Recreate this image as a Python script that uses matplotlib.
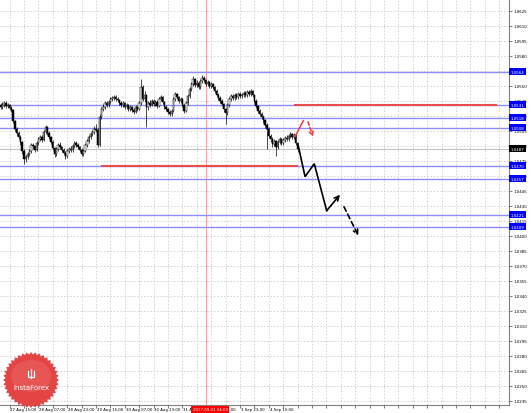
import numpy as np
import matplotlib
matplotlib.use("Agg")
from matplotlib import pyplot as plt
from matplotlib.patches import Polygon
from matplotlib.transforms import blended_transform_factory

# H1 bars, prices given in pips above 1.0000
close_pips = [529, 531, 533, 530, 531, 528, 526, 515, 507, 503,
              499, 494, 485, 477, 479, 482, 485, 491, 490, 486,
              493, 497, 499, 496, 504, 509, 503, 499, 494, 488,
              482, 487, 491, 489, 486, 483, 480, 485, 487, 486,
              490, 493, 491, 489, 486, 482, 485, 491, 495, 499,
              502, 504, 507, 506, 491, 519, 527, 529, 533, 531,
              534, 537, 538, 539, 537, 536, 533, 531, 533, 529,
              531, 527, 529, 526, 524, 529, 527, 533, 549, 537,
              541, 529, 533, 531, 535, 532, 534, 530, 537, 539,
              534, 529, 527, 524, 522, 525, 537, 542, 539, 535,
              537, 531, 525, 533, 540, 547, 552, 557, 551, 553,
              549, 555, 558, 556, 552, 554, 550, 552, 549, 545,
              541, 538, 535, 532, 527, 523, 531, 537, 540, 538,
              541, 539, 542, 540, 541, 543, 541, 544, 542, 545,
              541, 535, 530, 525, 522, 519, 516, 511, 507, 500,
              497, 492, 495, 489, 494, 497, 493, 496, 498, 497,
              500, 502, 499, 501, 493, 487]
high_pips = [533, 534, 535, 535, 533, 532, 530, 527, 516, 509,
             505, 501, 495, 487, 481, 484, 487, 493, 493, 491,
             495, 499, 501, 501, 506, 511, 510, 505, 500, 496,
             489, 489, 493, 494, 490, 488, 485, 487, 489, 490,
             492, 495, 495, 493, 490, 488, 487, 493, 497, 501,
             504, 506, 510, 512, 508, 522, 529, 532, 535, 535,
             536, 539, 540, 541, 541, 539, 537, 535, 535, 534,
             533, 532, 531, 530, 528, 531, 530, 535, 557, 551,
             545, 542, 535, 536, 537, 537, 536, 536, 539, 541,
             540, 535, 531, 528, 526, 527, 539, 544, 543, 540,
             539, 538, 532, 535, 542, 549, 554, 560, 558, 556,
             555, 557, 561, 560, 557, 556, 555, 554, 553, 550,
             547, 543, 540, 537, 533, 528, 533, 539, 542, 542,
             543, 543, 544, 544, 543, 545, 545, 546, 546, 547,
             546, 542, 537, 531, 527, 524, 521, 517, 513, 509,
             502, 499, 497, 496, 496, 499, 498, 498, 500, 501,
             502, 504, 503, 503, 502, 494]
low_pips = [527, 527, 529, 528, 528, 526, 524, 513, 505, 500,
            497, 491, 482, 472, 474, 477, 480, 483, 487, 484,
            485, 491, 495, 494, 495, 502, 501, 497, 492, 486,
            479, 480, 485, 487, 484, 481, 477, 478, 483, 484,
            484, 488, 489, 487, 484, 480, 480, 484, 489, 493,
            497, 500, 502, 504, 489, 490, 517, 525, 527, 529,
            529, 532, 535, 536, 535, 534, 531, 529, 529, 527,
            527, 525, 525, 524, 522, 523, 525, 526, 531, 535,
            534, 509, 526, 529, 530, 530, 530, 528, 529, 535,
            532, 527, 525, 522, 520, 520, 524, 535, 537, 533,
            533, 529, 523, 524, 531, 538, 545, 550, 549, 549,
            547, 547, 553, 554, 550, 550, 548, 548, 547, 543,
            539, 536, 533, 530, 524, 512, 521, 529, 535, 536,
            536, 537, 537, 538, 538, 539, 539, 539, 540, 540,
            539, 533, 528, 523, 520, 517, 513, 509, 487, 498,
            494, 489, 490, 480, 487, 492, 491, 491, 494, 495,
            495, 498, 497, 497, 491, 484]
first_open_pips = 531

blue_levels = [1.0564, 1.0531, 1.0518, 1.0508, 1.0470, 1.0457, 1.0421, 1.0409]
red_levels = [1.0531, 1.0470]
red_start = [158, 51]
red_end = [271, 160]
bid = 1.0487

cursor_bar = 109
cursor_label = "2017.09.01 04:00"

tick_bars = [0, 16, 32, 48, 64, 80, 96, 112, 128, 144]
tick_labels = ["27 Aug 15:00", "28 Aug 07:00", "28 Aug 23:00", "29 Aug 15:00",
               "30 Aug 07:00", "30 Aug 23:00", "31 Aug 15:00", "1 Sep 07:00",
               "3 Sep 23:00", "4 Sep 15:00"]

# forecast arrows
black_x = [160.4, 164.2, 169.3, 176.2, 183.6]
black_y = [1.0490, 1.0459, 1.0472, 1.0425, 1.0441]
black_dash_x = [185.8, 193.8]
black_dash_y = [1.0429, 1.0400]
red_up_x = [158.6, 163.2]
red_up_y = [1.0499, 1.0515]
red_down_x = [165.8, 168.6]
red_down_y = [1.0514, 1.0499]

close = 1.0 + np.array(close_pips) / 10000
high = 1.0 + np.array(high_pips) / 10000
low = 1.0 + np.array(low_pips) / 10000
opn = 1.0 + np.array([first_open_pips] + close_pips[:-1]) / 10000
bars = np.arange(len(close)) - 5

fig = plt.figure(figsize=(5.32, 4.14), dpi=100)
ax = fig.add_axes([0, 8.3 / 414, 509 / 532, 405.7 / 414])
ax.set_xlim(-5.3, 277.5)
ax.set_ylim(1.0231, 1.06367)

GRID = '#cfcfcf'
yt = np.arange(1.0235, 1.06251, 0.0015)
ax.set_yticks(yt)
ax.set_yticklabels(['%.4f' % v for v in yt])
ax.yaxis.tick_right()
ax.tick_params(axis='y', labelsize=2.9, length=2, pad=1.5, color='#808080')
ax.set_xticks(np.arange(0, 278, 8))
ax.set_xticklabels([''] * len(ax.get_xticks()))
ax.tick_params(axis='x', length=2, color='#808080')
ax.grid(True, color=GRID, lw=0.6, ls=(0, (2, 2)))
ax.set_axisbelow(True)
for s in ['left', 'top']:
    ax.spines[s].set_visible(False)
for s in ['right', 'bottom']:
    ax.spines[s].set_color('#808080')
    ax.spines[s].set_linewidth(0.8)

xtr = blended_transform_factory(ax.transData, ax.transAxes)
for b, lab in zip(tick_bars, tick_labels):
    ax.text(b + 0.5, -0.006, lab, transform=xtr, ha='left', va='top', fontsize=2.8, clip_on=False)
ax.text(-13, -0.006, "00", transform=xtr, ha='left', va='top', fontsize=2.8, clip_on=False)

# levels
for lv in blue_levels:
    ax.axhline(lv, color='#8c8cff', lw=1.0, zorder=1.5)
ax.axhline(bid, color='#c4c4c4', lw=0.8, zorder=1.4)
for lv, x0, x1 in zip(red_levels, red_start, red_end):
    ax.plot([x0, x1], [lv, lv], color='#e84c4c', lw=1.5, zorder=1.6, solid_capstyle='butt')

ax.axvline(cursor_bar, color='#ff8c8c', lw=0.6, zorder=1.3)

# candles
up = close >= opn
ax.vlines(bars, low, high, color='black', lw=0.5, zorder=3)
body_lo = np.minimum(opn, close)
body_h = np.maximum(np.abs(close - opn), 0.00005)
ax.bar(bars[up], body_h[up], bottom=body_lo[up], width=0.8, color='white',
       edgecolor='black', linewidth=0.35, zorder=3.1)
ax.bar(bars[~up], body_h[~up], bottom=body_lo[~up], width=0.8, color='black',
       edgecolor='black', linewidth=0.35, zorder=3.1)

# forecast arrows
ax.plot(black_x[:-1], black_y[:-1], color='black', lw=1.2, zorder=4, solid_joinstyle='miter')
ax.annotate('', xy=(black_x[-1], black_y[-1]), xytext=(black_x[-2], black_y[-2]),
            arrowprops=dict(arrowstyle='->', color='black', lw=1.2, mutation_scale=8,
                            shrinkA=0, shrinkB=0), zorder=4)
ax.annotate('', xy=(black_dash_x[1], black_dash_y[1]), xytext=(black_dash_x[0], black_dash_y[0]),
            arrowprops=dict(arrowstyle='->', color='black', lw=1.2, ls=(0, (3, 2)), mutation_scale=8,
                            shrinkA=0, shrinkB=0), zorder=4)
ax.plot(red_up_x, red_up_y, color='#f03c3c', lw=1.1, zorder=4)
ax.annotate('', xy=(red_down_x[1], red_down_y[1]), xytext=(red_down_x[0], red_down_y[0]),
            arrowprops=dict(arrowstyle='->', color='#f03c3c', lw=1.1, ls=(0, (2.5, 1.5)),
                            mutation_scale=7, shrinkA=0, shrinkB=0), zorder=4)

# price boxes on the right scale
ytr = blended_transform_factory(ax.transAxes, ax.transData)
for lv in blue_levels:
    ax.text(1.003, lv, '%.4f' % lv, transform=ytr, ha='left', va='center', fontsize=2.9,
            color='white', clip_on=False, zorder=6,
            bbox=dict(boxstyle='square,pad=0.35', fc='#0000ff', ec='none'))
ax.text(1.003, bid, '%.4f' % bid, transform=ytr, ha='left', va='center', fontsize=2.9,
        color='white', clip_on=False, zorder=6,
        bbox=dict(boxstyle='square,pad=0.35', fc='black', ec='none'))
ax.text(cursor_bar + 2.5, -0.006, cursor_label, transform=xtr,
        ha='center', va='top', fontsize=2.8, color='white', clip_on=False, zorder=6,
        bbox=dict(boxstyle='square,pad=0.4', fc='#ff0000', ec='none'))

# InstaForex badge, drawn in pixel coordinates
ov = fig.add_axes([0, 0, 1, 1])
ov.set_xlim(0, 532)
ov.set_ylim(414, 0)
ov.axis('off')
n = 40
ang = np.linspace(0, 2 * np.pi, 2 * n, endpoint=False)
rad = np.where(np.arange(2 * n) % 2 == 0, 28, 25.5)
cx, cy = 31, 381
ov.add_patch(Polygon(np.c_[cx + rad * np.cos(ang), cy + rad * np.sin(ang)],
                     closed=True, fc='#e23b3b', ec='none', alpha=0.95))
ov.add_patch(Polygon(np.c_[cx + 20 * np.cos(ang), cy - 4 + 16 * np.sin(ang)],
                     closed=True, fc='#ee6a6a', ec='none', alpha=0.45))
ov.text(cx, cy + 7, 'InstaForex', color='white', fontsize=5, ha='center', va='center')
ov.plot([cx - 3, cx - 3, cx + 3, cx + 3], [cy - 9, cy - 3, cy - 3, cy - 9], color='white', lw=0.9)
ov.plot([cx, cx], [cy - 11, cy - 2], color='white', lw=0.9)

fig.savefig('out.png', dpi=100)
